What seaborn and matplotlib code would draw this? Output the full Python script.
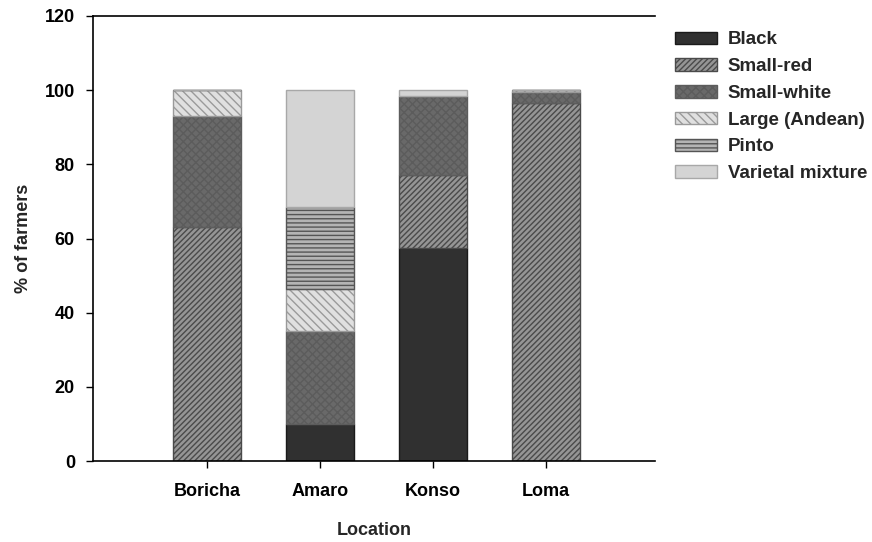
import matplotlib
matplotlib.use("Agg")
import matplotlib.pyplot as plt
import seaborn as sns
import numpy as np
import pandas as pd

locations = ["Boricha", "Amaro", "Konso", "Loma"]
series_names = ["Black", "Small-red", "Small-white", "Large (Andean)", "Pinto", "Varietal mixture"]
black = [0, 10, 57.5, 0]
small_red = [63, 0, 19.5, 96.5]
small_white = [30, 25, 21.5, 3]
large_andean = [7, 11.5, 0, 0.5]
pinto = [0, 22, 0, 0]
varietal_mixture = [0, 31.5, 1.5, 0]
values = [black, small_red, small_white, large_andean, pinto, varietal_mixture]

styles = [
    dict(color="#303030", edgecolor="#1a1a1a", hatch=None),
    dict(color="#959595", edgecolor="#4a4a4a", hatch="//////"),
    dict(color="#696969", edgecolor="#5c5c5c", hatch="xxxx"),
    dict(color="#e0e0e0", edgecolor="#9a9a9a", hatch="\\\\\\\\"),
    dict(color="#b4b4b4", edgecolor="#555555", hatch="----"),
    dict(color="#d4d4d4", edgecolor="#a8a8a8", hatch=None),
]

sns.set_style("ticks")
plt.rcParams["font.family"] = ["Liberation Sans", "DejaVu Sans"]
plt.rcParams["hatch.linewidth"] = 1.0

fig = plt.figure(figsize=(8.72, 5.42), dpi=100)
ax = fig.add_axes([0.1067, 0.1494, 0.6443, 0.8211])

bottom = np.zeros(len(locations))
for name, vals, st in zip(series_names, values, styles):
    df = pd.DataFrame({"Location": locations, "pct": vals})
    sns.barplot(data=df, x="Location", y="pct", order=locations, bottom=bottom.copy(),
                color=st["color"], edgecolor=st["edgecolor"], hatch=st["hatch"],
                linewidth=1.0, width=0.6, saturation=1, errorbar=None, ax=ax, label=name)
    bottom += np.array(vals)

ax.set_xlim(-1.009, 3.964)
ax.set_ylim(0, 120)
ax.set_yticks(np.arange(0, 121, 20))
ax.set_xlabel("Location", fontsize=13, fontweight="bold", labelpad=16)
ax.set_ylabel("% of farmers", fontsize=13, fontweight="bold", labelpad=9)
for lbl in ax.get_xticklabels() + ax.get_yticklabels():
    lbl.set_fontweight("bold")
    lbl.set_fontsize(13)
ax.tick_params(direction="out", length=5, width=1, colors="black")
ax.tick_params(axis="y", pad=8)
ax.tick_params(axis="x", pad=11)
ax.spines["right"].set_visible(False)
for s in ["left", "bottom", "top"]:
    ax.spines[s].set_linewidth(1.2)
    ax.spines[s].set_color("black")

leg = ax.legend(loc="upper left", bbox_to_anchor=(1.022, 0.982), frameon=False,
                prop=dict(size=13.5, weight="bold"), handlelength=2.24, handleheight=0.66,
                labelspacing=0.52, handletextpad=0.59, borderaxespad=0.0)

fig.savefig("out.png", dpi=100)
